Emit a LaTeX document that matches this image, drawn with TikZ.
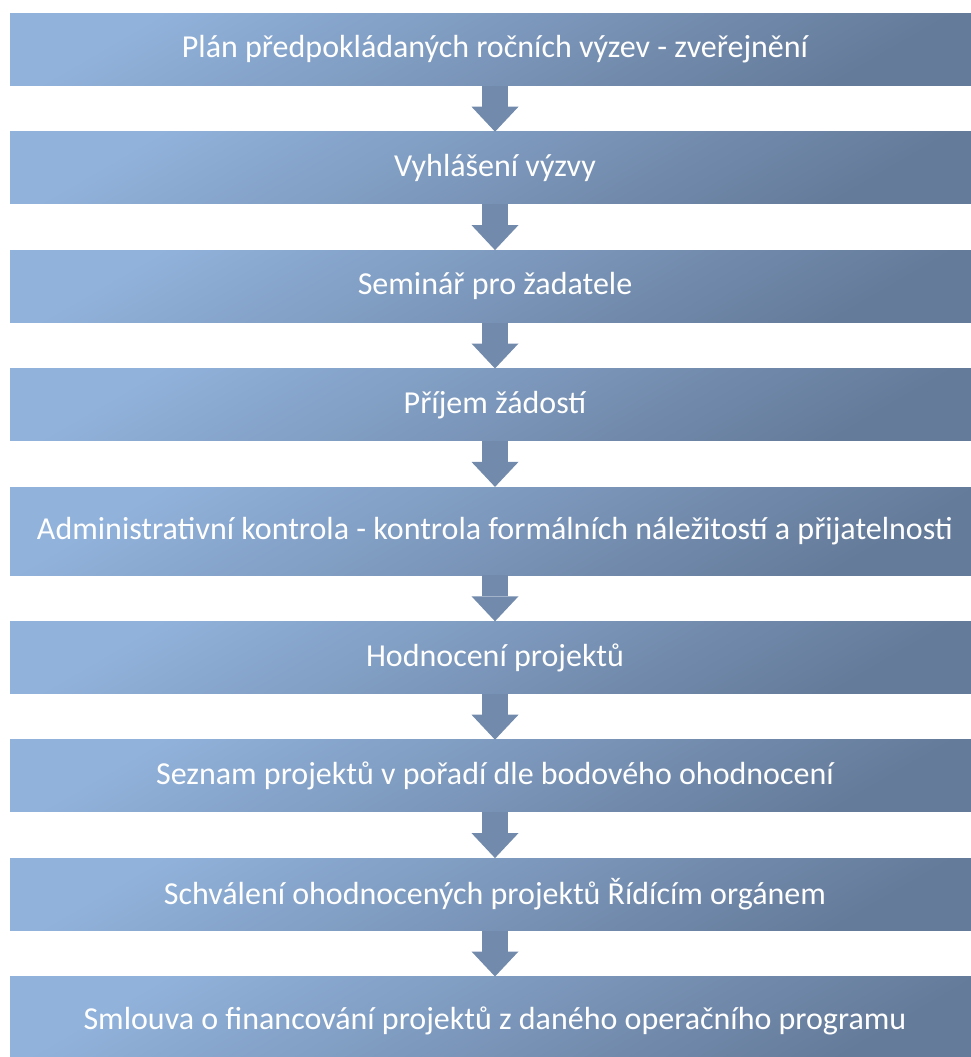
\documentclass[tikz,border=0pt]{standalone}
\usepackage{fontspec}
\setmainfont{Carlito}
\usetikzlibrary{arrows.meta,positioning}
\definecolor{boxlight}{RGB}{145,178,219}
\definecolor{boxdark}{RGB}{101,123,154}
\definecolor{arrowfill}{RGB}{114,138,172}
\tikzset{stage/.style={top color=boxlight,bottom color=boxdark,shading angle=30,
 minimum width=970pt,minimum height=72pt,inner sep=0pt,text=white,font=\fontsize{32}{38}\selectfont},
 flow/.style={arrowfill,line width=26pt,-{Triangle[width=47pt,length=25pt,line width=0pt]}}}

\begin{document}
\begin{tikzpicture}[x=1pt,y=1pt,node distance=46pt]
\useasboundingbox (0,0) rectangle (970,-1057);
\node[stage] (plan) at (495,-49.5) {Plán předpokládaných ročních výzev - zveřejnění};
\node[stage,below=of plan] (call) {Vyhlášení výzvy};
\node[stage,below=of call] (seminar) {Seminář pro žadatele};
\node[stage,below=of seminar] (intake) {Příjem žádostí};
\node[stage,below=of intake,minimum height=88pt] (admin) {Administrativní kontrola - kontrola formálních náležitostí a přijatelnosti};
\node[stage,below=of admin] (eval) {Hodnocení projektů};
\node[stage,below=of eval] (ranking) {Seznam projektů v pořadí dle bodového ohodnocení};
\node[stage,below=of ranking] (approval) {Schválení ohodnocených projektů Řídícím orgánem};
\node[stage,below=of approval,minimum height=88pt] (contract) {Smlouva o financování projektů z daného operačního programu};
\draw[flow] (plan.south)--(call.north);
\draw[flow] (call.south)--(seminar.north);
\draw[flow] (seminar.south)--(intake.north);
\draw[flow] (intake.south)--(admin.north);
\draw[flow] (admin.south)--(eval.north);
\draw[flow] (eval.south)--(ranking.north);
\draw[flow] (ranking.south)--(approval.north);
\draw[flow] (approval.south)--(contract.north);
\end{tikzpicture}
\end{document}
